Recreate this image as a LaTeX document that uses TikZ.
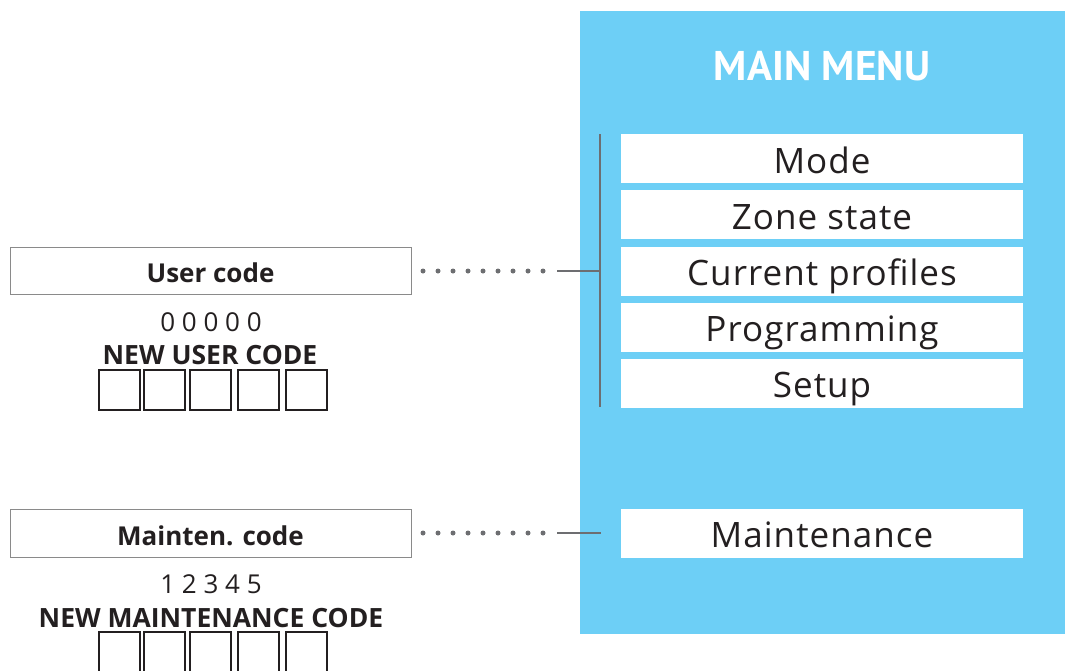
\documentclass[tikz,border=0pt]{standalone}
\usepackage{fontspec}
\setmainfont{Open Sans}
\newfontfamily\itemfont[LetterSpace=3]{Open Sans}
\newfontfamily\titlefont{PT Sans}
\definecolor{menublue}{HTML}{6DCFF6}
\definecolor{txt}{HTML}{231F20}
\definecolor{linegray}{HTML}{6D6E71}
\definecolor{boxgray}{HTML}{8A8A8A}
\begin{document}
\begin{tikzpicture}[x=1pt,y=-1pt,
  itembox/.style={fill=white,draw=none},
  itemtxt/.style={anchor=base,text=txt,inner sep=0pt,font=\itemfont\fontsize{35}{40}\selectfont},
  codebox/.style={draw=boxgray,line width=1pt,fill=white},
  codetxt/.style={anchor=base,text=txt,inner sep=0pt,font=\fontsize{26}{30}\selectfont\bfseries},
  digtxt/.style={anchor=base,text=txt,inner sep=0pt,font=\fontsize{26}{30}\selectfont},
  newtxt/.style={anchor=base,text=txt,inner sep=0pt,font=\fontsize{26.5}{30}\selectfont\bfseries},
  cell/.style={draw=txt,line width=1.3pt},
  dotline/.style={linegray,line width=5pt,line cap=round,dash pattern=on 0pt off 15pt},
  conn/.style={linegray,line width=2.5pt}]
\useasboundingbox (0,0) rectangle (1065,670);
% main menu panel
\fill[menublue] (580,11) rectangle (1065,634);
\node[anchor=base,text=white,inner sep=0pt,font=\titlefont\fontsize{41.5}{44}\selectfont\bfseries] (title) at (822,80) {MAIN MENU};
% items
\foreach \n/\t/\b/\base/\lab in {mode/134/183/173/Mode,zone/190/239/229/Zone state,prof/247/296/285/Current profiles,prog/303/352/341/Programming,setup/359/408/397/Setup,maint/509/558/547/Maintenance}{
  \fill[itembox] (621,\t) rectangle (1023,\b);
  \node[itemtxt] (\n) at (822,\base) {\lab};
}
% vertical bar
\coordinate (bartop) at (600,134);
\coordinate (barbot) at (600,407);
\draw[conn] (bartop) -- (barbot);
% user code
\draw[codebox] (10,247) rectangle (411,294);
\node[codetxt] (ucode) at (210.5,282) {User code};
\node[digtxt] (udig) at (211,331) {0 0 0 0 0};
\node[newtxt] (unew) at (210,364) {NEW USER CODE};
\foreach \x in {99,144,190,238,286}{\draw[cell] (\x,370) rectangle ++(41,40);}
% maintenance code
\draw[codebox] (10,509) rectangle (411,557);
\node[codetxt] (mcode) at (210.5,545) {Mainten. code};
\node[digtxt] (mdig) at (211,593) {1 2 3 4 5};
\node[newtxt] (mnew) at (211,627) {NEW MAINTENANCE CODE};
\foreach \x in {99,144,190,238,286}{\draw[cell] (\x,632) rectangle ++(41,45);}
% connectors
\coordinate (d1s) at (423,271); \coordinate (d1e) at (543.5,271);
\coordinate (c1s) at (557,271); \coordinate (c1e) at (600,271);
\draw[dotline] (d1s) -- (d1e);
\draw[conn] (c1s) -- (c1e);
\coordinate (d2s) at (423,533); \coordinate (d2e) at (543.5,533);
\coordinate (c2s) at (557,533); \coordinate (c2e) at (601,533);
\draw[dotline] (d2s) -- (d2e);
\draw[conn] (c2s) -- (c2e);
\end{tikzpicture}
\end{document}
